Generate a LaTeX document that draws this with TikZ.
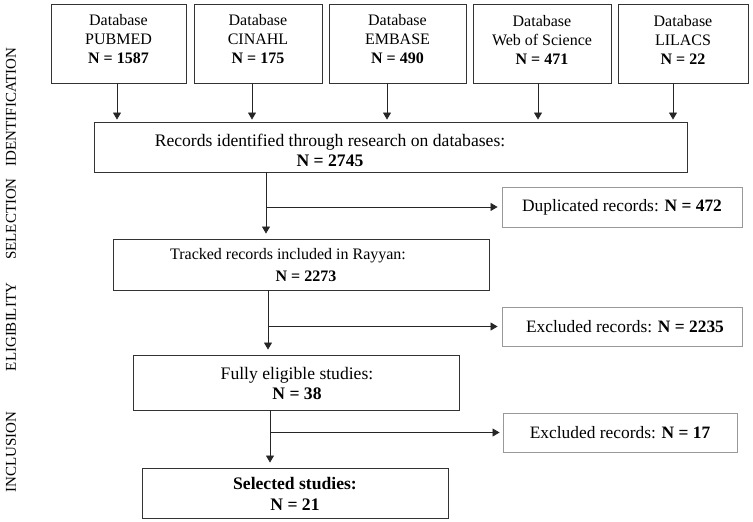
\documentclass[tikz,border=0pt]{standalone}
\usepackage{fontspec}
\setmainfont{Liberation Serif}
\usetikzlibrary{arrows.meta}
\begin{document}
\begin{tikzpicture}[x=1pt,y=-1pt,
  mainbox/.style={draw=black!80, line width=0.9pt, inner sep=0pt},
  sidebox/.style={draw=black!40, line width=0.9pt, inner sep=0pt},
  txt/.style={font=\fontsize{16}{19}\selectfont, align=center, inner sep=0pt},
  bigtxt/.style={font=\fontsize{17.6}{20}\selectfont, align=center, inner sep=0pt},
  phase/.style={font=\fontsize{15}{18}\selectfont, rotate=90, inner sep=0pt},
  arr/.style={line width=0.8pt, draw=black!85, -{Triangle[length=7pt,width=8pt]}},
  ln/.style={line width=0.8pt, draw=black!85}]
\useasboundingbox (0,0) rectangle (753,522);

% phase labels
\node[phase] (ph1) at (11,107) {IDENTIFICATION};
\node[phase] (ph2) at (11,219) {SELECTION};
\node[phase] (ph3) at (11,327) {ELIGIBILITY};
\node[phase] (ph4) at (11,452) {INCLUSION};

% database boxes
\node[mainbox, minimum width=135pt, minimum height=79pt] (pub) at (118.5,43.5) {};
\node[mainbox, minimum width=128pt, minimum height=79pt] (cin) at (258,43.5) {};
\node[mainbox, minimum width=137pt, minimum height=79pt] (emb) at (397.5,43.5) {};
\node[mainbox, minimum width=138pt, minimum height=79pt] (wos) at (542,43.5) {};
\node[mainbox, minimum width=130pt, minimum height=79pt] (lil) at (683,43.5) {};
\node[txt] (tpub) at ([yshift=4pt]pub.center) {Database\\PUBMED\\\textbf{N = 1587}};
\node[txt] (tcin) at ([yshift=4pt]cin.center) {Database\\CINAHL\\\textbf{N = 175}};
\node[txt] (temb) at ([yshift=4pt]emb.center) {Database\\EMBASE\\\textbf{N = 490}};
\node[txt] (twos) at ([yshift=4pt]wos.center) {Database\\Web of Science\\\textbf{N = 471}};
\node[txt] (tlil) at ([yshift=4pt]lil.center) {Database\\LILACS\\\textbf{N = 22}};

% main flow boxes
\node[mainbox, minimum width=593pt, minimum height=50pt] (rec) at (390.5,147) {};
\node[bigtxt] (trec) at (330,150.5) {Records identified through research on databases:\\\textbf{N = 2745}};

\node[mainbox, minimum width=376pt, minimum height=51pt] (trk) at (301,264.5) {};
\node[txt] (ttrk1) at (288,256) {Tracked records included in Rayyan:};
\node[txt] (ttrk2) at (306,276) {\textbf{N = 2273}};

\node[mainbox, minimum width=326pt, minimum height=55pt] (ful) at (296,382.5) {};
\node[bigtxt] (tful) at (297,383) {Fully eligible studies:\\\textbf{N = 38}};

\node[mainbox, minimum width=306pt, minimum height=50pt] (sel) at (295,493) {};
\node[bigtxt, font=\fontsize{17.6}{21}\selectfont] (tsel) at (295,494) {\textbf{Selected studies:}\\\textbf{N = 21}};

% side boxes
\node[sidebox, minimum width=240pt, minimum height=40pt] (dup) at (622,207) {};
\node[bigtxt, font=\fontsize{17.4}{20}\selectfont] (tdup) at (622,207) {Duplicated records: \textbf{N = 472}};
\node[sidebox, minimum width=240pt, minimum height=39pt] (ex1) at (622,326.5) {};
\node[bigtxt, font=\fontsize{17.4}{20}\selectfont] (tex1) at (625,326.5) {Excluded records: \textbf{N = 2235}};
\node[sidebox, minimum width=234pt, minimum height=39pt] (ex2) at (620,432.5) {};
\node[bigtxt, font=\fontsize{17.4}{20}\selectfont] (tex2) at (620,432.5) {Excluded records: \textbf{N = 17}};

% arrows from databases
\draw[arr, shorten >=2pt] ([xshift=-1.5pt]pub.south) -- ([xshift=-1.5pt]pub.south |- rec.north);
\draw[arr, shorten >=2pt] ([xshift=-6pt]cin.south) -- ([xshift=-6pt]cin.south |- rec.north);
\draw[arr, shorten >=2pt] ([xshift=-10.5pt]emb.south) -- ([xshift=-10.5pt]emb.south |- rec.north);
\draw[arr, shorten >=2pt] ([xshift=-4pt]wos.south) -- ([xshift=-4pt]wos.south |- rec.north);
\draw[arr, shorten >=2pt] ([xshift=-10pt]lil.south) -- ([xshift=-10pt]lil.south |- rec.north);

% trunk 1
\coordinate (s1) at ([xshift=-124.5pt]rec.south);
\coordinate (j1) at (s1 |- dup.west);
\draw[arr, shorten >=5pt] (s1) -- (s1 |- trk.north);
\draw[arr, shorten >=4pt] (j1) -- (dup.west);

% trunk 2
\coordinate (s2) at ([xshift=-33pt]trk.south);
\coordinate (j2) at (s2 |- ex1.west);
\draw[arr, shorten >=5pt] (s2) -- (s2 |- ful.north);
\draw[arr, shorten >=4pt] (j2) -- (ex1.west);

% trunk 3
\coordinate (s3) at ([xshift=-26pt]ful.south);
\coordinate (j3) at (s3 |- ex2.west);
\draw[arr, shorten >=5pt] (s3) -- (s3 |- sel.north);
\draw[arr, shorten >=3pt] (j3) -- (ex2.west);
\end{tikzpicture}
\end{document}
